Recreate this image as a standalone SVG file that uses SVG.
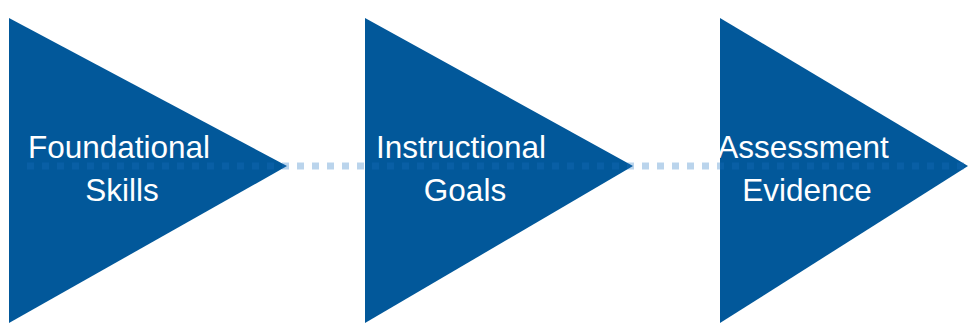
<svg xmlns="http://www.w3.org/2000/svg" width="970" height="325" viewBox="0 0 970 325">
  <style>
    .tri { fill: #02589a; }
    .lbl { fill: #ffffff; font-family: "Liberation Sans", Arial, sans-serif; font-size: 31.5px; text-anchor: middle; }
    .dots { fill: none; stroke: #1970c0; stroke-opacity: 0.3; stroke-width: 7; stroke-dasharray: 7 8; }
  </style>
  <rect width="970" height="325" fill="#ffffff"/>
  <g id="node-foundational">
    <polygon class="tri" points="9,18 287,166 9,323"/>
    <text class="lbl" x="119" y="158">Foundational</text>
    <text class="lbl" x="122" y="201">Skills</text>
  </g>
  <g id="node-instructional">
    <polygon class="tri" points="365,18 633,166 365,323"/>
    <text class="lbl" x="461" y="158">Instructional</text>
    <text class="lbl" x="465" y="201">Goals</text>
  </g>
  <g id="node-assessment">
    <polygon class="tri" points="720,18 968,166 720,323"/>
    <text class="lbl" x="803" y="158">Assessment</text>
    <text class="lbl" x="807" y="201">Evidence</text>
  </g>
  <g id="connectors">
    <line class="dots" x1="27" y1="166" x2="975" y2="166"/>
  </g>
</svg>
